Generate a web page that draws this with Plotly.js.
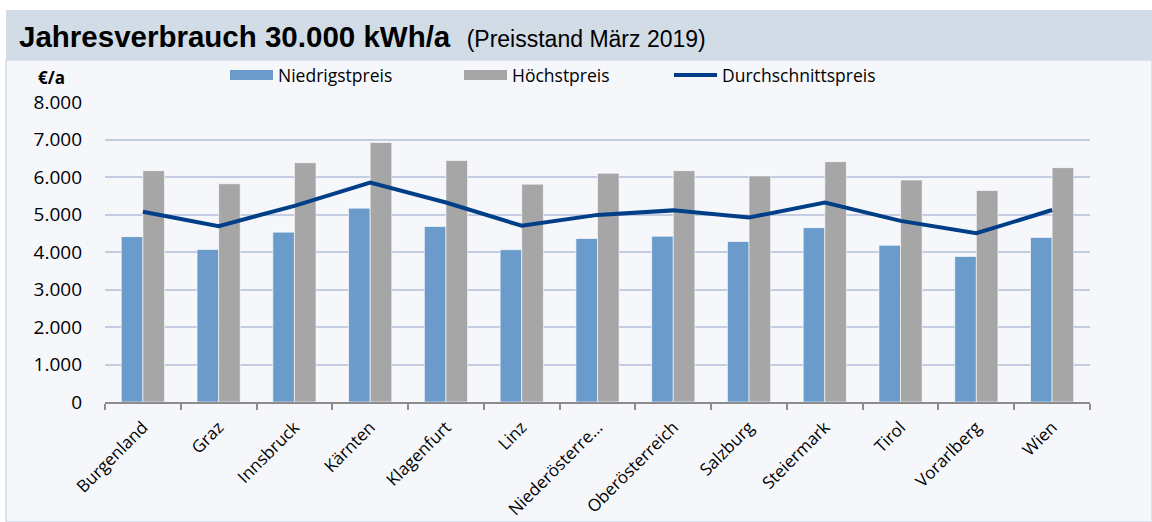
<!DOCTYPE html>
<html>
<head>
<meta charset="utf-8">
<script src="https://cdn.plot.ly/plotly-3.0.1.min.js"></script>
<style>
  html, body { margin: 0; padding: 0; background: #ffffff; }
  #chart { width: 1152px; height: 522px; }
</style>
</head>
<body>
<div id="chart"></div>
<script>
// Preise in €/a bei 30.000 kWh/a, Stand März 2019
var regionen = ["Burgenland", "Graz", "Innsbruck", "Kärnten", "Klagenfurt", "Linz",
  "Niederösterre…", "Oberösterreich", "Salzburg", "Steiermark", "Tirol", "Vorarlberg", "Wien"];
var niedrigstpreis = [4410, 4070, 4530, 5170, 4680, 4060, 4360, 4420, 4280, 4650, 4180, 3880, 4390];
var hoechstpreis = [6170, 5820, 6380, 6920, 6440, 5810, 6100, 6170, 6030, 6410, 5920, 5640, 6250];
var durchschnittspreis = [5075, 4690, 5230, 5850, 5320, 4700, 4990, 5110, 4920, 5320, 4830, 4500, 5120];
var yTicks = [0, 1000, 2000, 3000, 4000, 5000, 6000, 7000, 8000];

var farbeNiedrig = "#6a9bcb";
var farbeHoch = "#a6a6a6";
var farbeSchnitt = "#003f87";
var achsenFont = "'Open Sans', Lato, sans-serif";

var traces = [
  {
    type: "bar", name: "Niedrigstpreis", x: regionen, y: niedrigstpreis, showlegend: false,
    marker: { color: farbeNiedrig, line: { color: "rgba(255,255,255,0.6)", width: 1 } }
  },
  {
    type: "bar", name: "Höchstpreis", x: regionen, y: hoechstpreis, showlegend: false,
    marker: { color: farbeHoch, line: { color: "rgba(255,255,255,0.6)", width: 1 } }
  },
  {
    type: "scatter", mode: "lines", name: "Durchschnittspreis", x: regionen, y: durchschnittspreis,
    line: { color: farbeSchnitt, width: 4 }, legend: "legend3"
  },
  // Legendeneinträge mit breiten Balken-Symbolen wie im Original
  {
    type: "scatter", mode: "lines", name: "Niedrigstpreis", x: [null], y: [null],
    line: { color: farbeNiedrig, width: 10 }, legend: "legend", hoverinfo: "skip"
  },
  {
    type: "scatter", mode: "lines", name: "Höchstpreis", x: [null], y: [null],
    line: { color: farbeHoch, width: 10 }, legend: "legend2", hoverinfo: "skip"
  }
];

// plot area: x 105..1090 px, y 102..402 px
function px(x) { return (x - 105) / 985; }
function py(y) { return (402 - y) / 300; }

function legende(xPix) {
  return {
    orientation: "h", x: px(xPix), y: py(75), xanchor: "left", yanchor: "middle",
    font: { family: achsenFont, size: 17.5, color: "#000000" },
    itemwidth: 43, bgcolor: "rgba(0,0,0,0)", borderwidth: 0
  };
}

var layout = {
  width: 1152, height: 522,
  margin: { l: 105, r: 62, t: 102, b: 120 },
  paper_bgcolor: "#ffffff",
  plot_bgcolor: "rgba(0,0,0,0)",
  separators: ",.",
  barmode: "group",
  bargap: 0.43,
  bargroupgap: 0,
  showlegend: true,
  legend: legende(225),
  legend2: legende(459),
  legend3: legende(669),
  xaxis: {
    type: "category",
    tickangle: -45,
    tickson: "boundaries",
    ticks: "outside", ticklen: 6, tickcolor: "#8c8c8c", tickwidth: 1.5,
    showline: true, linecolor: "#8c8c8c", linewidth: 1.5,
    showgrid: false,
    ticklabelstandoff: 7,
    tickfont: { family: achsenFont, size: 17, color: "#000000" }
  },
  yaxis: {
    range: [0, 8000],
    tickvals: yTicks,
    tickformat: ",d",
    showgrid: true, gridcolor: "#c3cce0", gridwidth: 1.5,
    zeroline: false, showline: false, ticks: "",
    ticklabelstandoff: 22,
    tickfont: { family: achsenFont, size: 19, color: "#000000" }
  },
  shapes: [
    {
      type: "rect", xref: "paper", yref: "paper", layer: "below",
      x0: px(6), x1: px(1152), y0: py(522), y1: py(60),
      fillcolor: "#f5f7fb", line: { color: "#d3dbe7", width: 1.5 }
    },
    {
      type: "rect", xref: "paper", yref: "paper", layer: "below",
      x0: px(6), x1: px(1152), y0: py(60), y1: py(10),
      fillcolor: "#d1dce7", line: { width: 0 }
    }
  ],
  annotations: [
    {
      xref: "paper", yref: "paper", x: px(17), y: py(36), xanchor: "left", yanchor: "middle",
      showarrow: false,
      text: "<b>Jahresverbrauch 30.000 kWh/a</b>  <span style='font-size:23px'>(Preisstand März 2019)</span>",
      font: { family: "'Liberation Sans', Arial, sans-serif", size: 29.5, color: "#000000" }
    },
    {
      xref: "paper", yref: "paper", x: px(36), y: py(77), xanchor: "left", yanchor: "middle",
      showarrow: false, text: "<b>€/a</b>",
      font: { family: achsenFont, size: 17, color: "#000000" }
    }
  ]
};

Plotly.newPlot("chart", traces, layout, { displayModeBar: false, responsive: false });
</script>
</body>
</html>
